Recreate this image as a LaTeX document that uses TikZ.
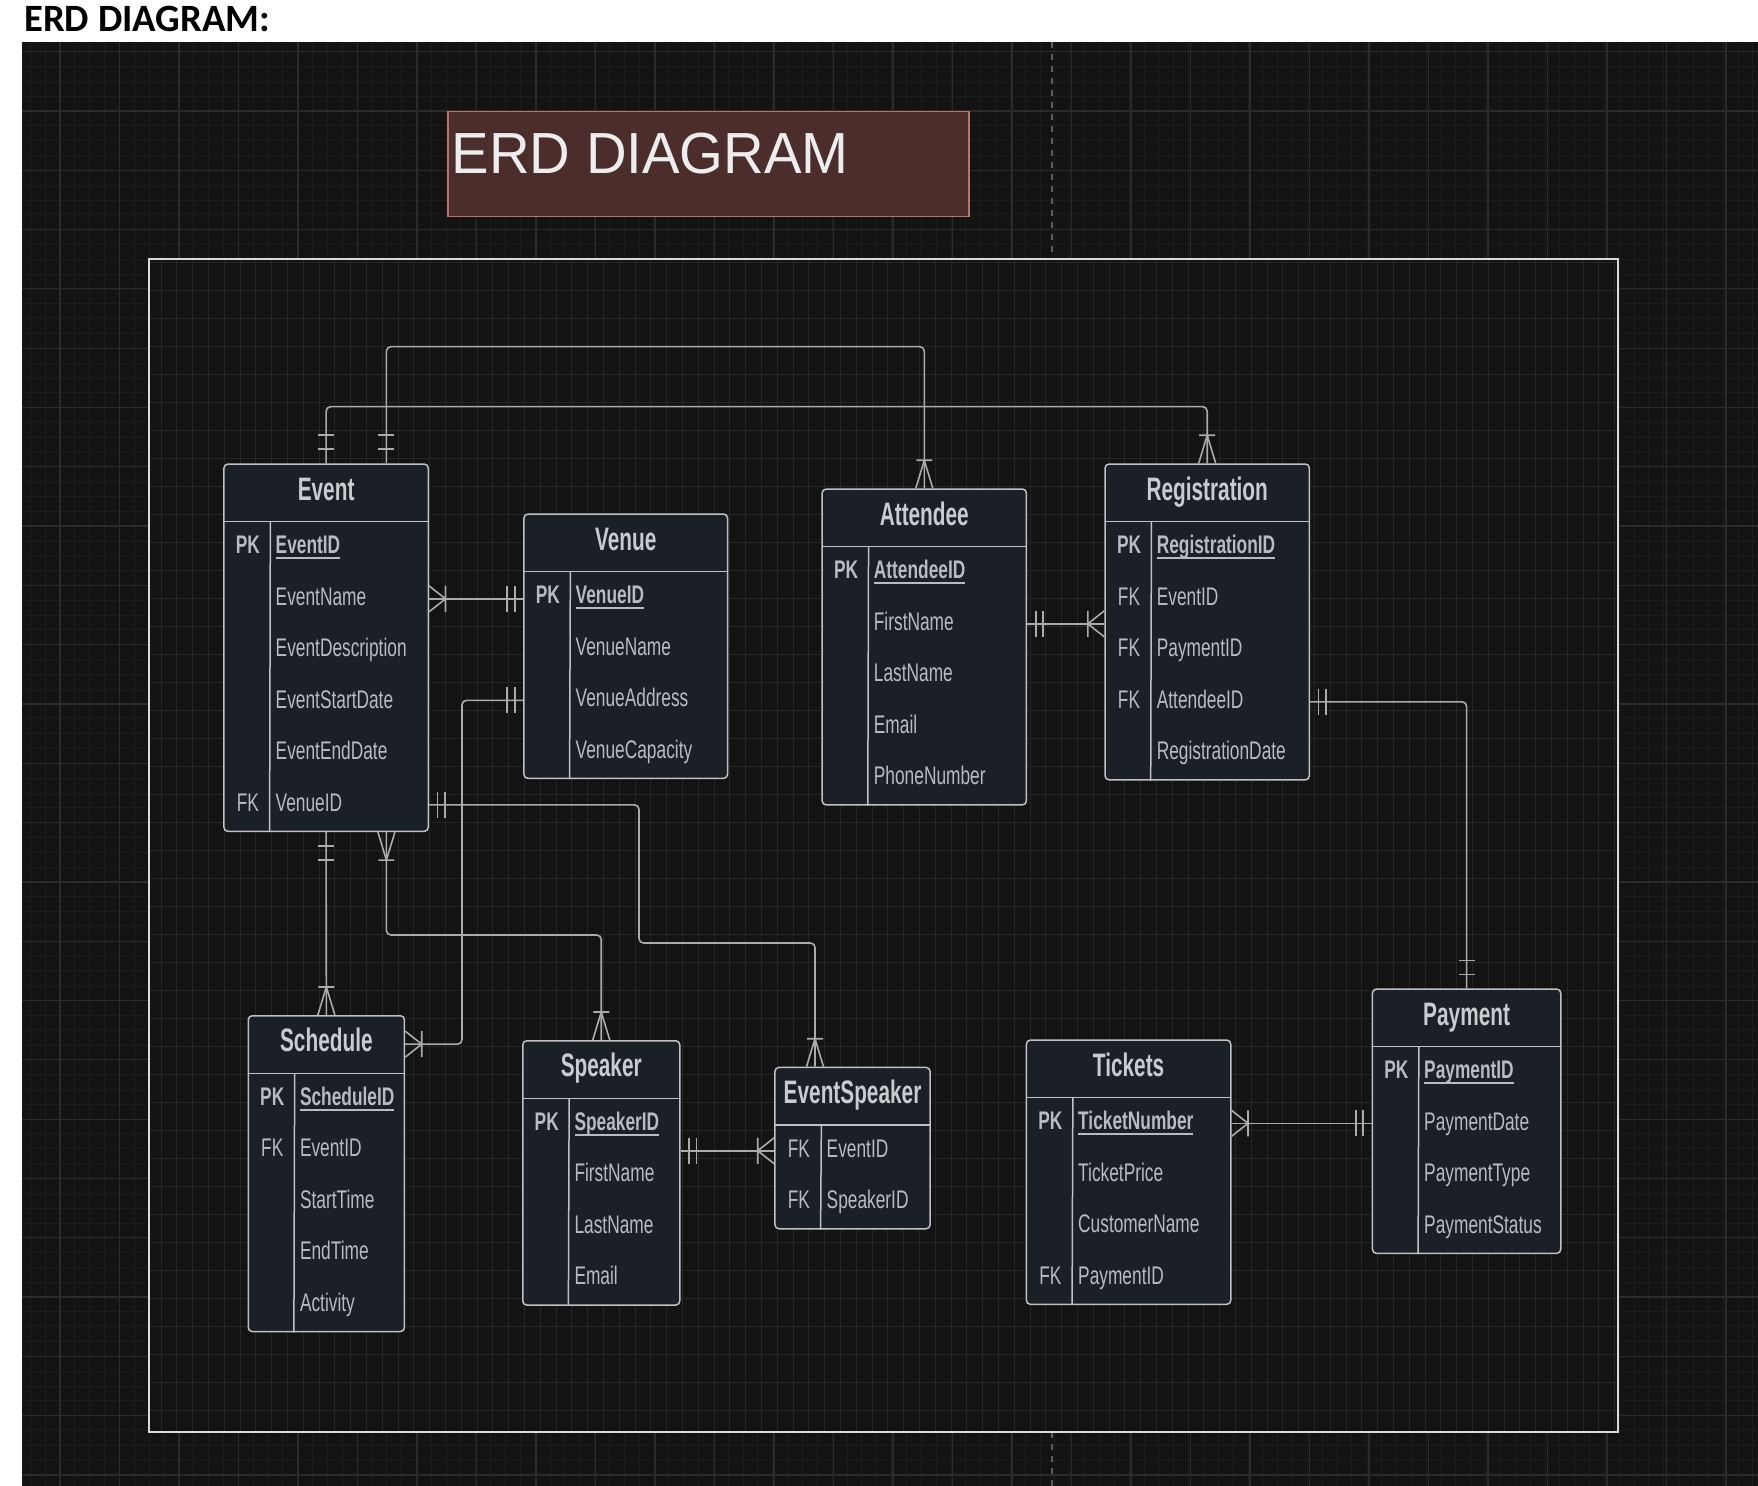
\documentclass[tikz,border=0pt]{standalone}
\usepackage{fontspec}
\usepackage{tikz}
\usetikzlibrary{positioning,calc}
\newfontfamily\erdbody[FakeStretch=0.68]{Liberation Sans}
\newfontfamily\erdhead[FakeStretch=0.64]{Liberation Sans}
\newfontfamily\erdtitle[FakeStretch=0.97]{Liberation Sans}
\newfontfamily\erdcap{Carlito}
\definecolor{pagebg}{HTML}{131313}
\definecolor{gridmajc}{HTML}{2B2B2B}
\definecolor{gridminc}{HTML}{1C1C1C}
\definecolor{gridinc}{HTML}{252525}
\definecolor{framec}{HTML}{DADADA}
\definecolor{dashc}{HTML}{5E5E5E}
\definecolor{titlefill}{HTML}{4B2D2C}
\definecolor{titledraw}{HTML}{B8736D}
\definecolor{titletxt}{HTML}{EDEDED}
\definecolor{erdfill}{HTML}{1B1F26}
\definecolor{erdline}{HTML}{BFC1C4}
\definecolor{erdtxt}{HTML}{B8BBC1}
\definecolor{erdhtxt}{HTML}{C8CBD0}
\definecolor{relc}{HTML}{ABABAB}
\newcommand{\erdu}{0.2mm}
\newcommand{\pk}{\bfseries PK}
\newcommand{\fk}{FK}
\newcommand{\nk}{}
\newcommand{\pkf}[1]{\bfseries\setbox0\hbox{#1}\rlap{\rule[-3.2pt]{\wd0}{1pt}}\box0}
\tikzset{
  entbox/.style={draw=erdline, fill=erdfill, line width=0.3mm, rounded corners=0.8mm, inner sep=0pt},
  enthead/.style={inner sep=0pt, outer sep=0pt, minimum height=11.66mm, text=erdhtxt,
                  font=\erdhead\bfseries\fontsize{18.5}{21}\selectfont, text height=4.66mm, text depth=1.54mm},
  keytxt/.style={inner sep=0pt, text=erdtxt, font=\erdbody\fontsize{14.5}{17}\selectfont,
                 text height=3.66mm, text depth=1.16mm},
  fldtxt/.style={keytxt, inner xsep=1mm},
  entline/.style={draw=erdline, line width=0.3mm},
  relline/.style={draw=relc, line width=0.32mm, rounded corners=0.9mm},
  relmark/.style={draw=relc, line width=0.32mm},
  gridmin/.style={draw=gridminc, line width=0.15mm},
  gridmaj/.style={draw=gridmajc, line width=0.24mm},
  gridin/.style={draw=gridinc, line width=0.15mm},
  titlebox/.style={draw=titledraw, fill=titlefill, line width=0.3mm, inner sep=0pt},
  oneH/.pic={\draw[relmark] (8.5,-13) -- (8.5,13) (16,-13) -- (16,13);},
  manyH/.pic={\draw[relmark] (0,-13) -- (16.5,0) -- (0,13) (16.5,-13) -- (16.5,13);},
  oneV/.pic={\draw[relmark] (-8,14) -- (8,14) (-8,28) -- (8,28);},
  manyV/.pic={\draw[relmark] (-8.5,0) -- (0,28) -- (8.5,0) (-8,28) -- (8,28);},
}
% one table: name, top left, width, rows, title, key/field list
\newcommand{\erdtable}[6]{%
  \node[entbox, minimum width=#3*\erdu, minimum height={(58.3+51.5*#4)*\erdu}, anchor=north west] (#1) at (#2) {};
  \node[enthead, minimum width=#3*\erdu, anchor=north] (#1-h) at (#1.north) {#5};
  \draw[entline] (#1-h.south west) -- (#1-h.south east);
  \draw[entline] ([xshift=46.4*\erdu]#1-h.south west) -- ([xshift=46.4*\erdu]#1.south west);
  \foreach \kc/\fd [count=\i] in {#6} {
    \node[keytxt, anchor=center] (#1-k\i) at ([xshift=24*\erdu, yshift={-(25.75+51.5*(\i-1))*\erdu}]#1-h.south west) {\kc};
    \node[fldtxt, anchor=west] (#1-\i) at ([xshift=46.4*\erdu, yshift={-(25.75+51.5*(\i-1))*\erdu}]#1-h.south west) {\fd};
  }%
}

\begin{document}
\begin{tikzpicture}[x=0.2mm, y=-0.2mm]
  \useasboundingbox (0,0) rectangle (1758,1486);
  \fill[white] (0,0) rectangle (1758,1486);
  \fill[pagebg] (22,42) rectangle (1758,1486);
  % canvas grid
  \begin{scope}
    \clip (22,42) rectangle (1758,1486);
    \foreach \gx in {15.35,30.2,...,1758} \draw[gridmin] (\gx,42) -- (\gx,1486);
    \foreach \gy in {51.7,66.525,...,1486} \draw[gridmin] (22,\gy) -- (1758,\gy);
    \foreach \gx in {60,119.5,...,1758} \draw[gridmaj] (\gx,42) -- (\gx,1486);
    \foreach \gy in {51.7,111,...,1486} \draw[gridmaj] (22,\gy) -- (1758,\gy);
  \end{scope}
  \draw[dashc, line width=0.3mm, dash pattern=on 1.2mm off 1.2mm] (1052,42) -- (1052,259);
  \draw[dashc, line width=0.3mm, dash pattern=on 1.2mm off 1.2mm] (1052,1432) -- (1052,1486);

  % pasted diagram
  \fill[pagebg] (149,259) rectangle (1618,1432);
  \begin{scope}
    \clip (149,259) rectangle (1618,1432);
    \foreach \gx in {161,176.8,...,1618} \draw[gridin] (\gx,259) -- (\gx,1432);
    \foreach \gy in {262,290,...,1432} \draw[gridin] (149,\gy) -- (1618,\gy);
  \end{scope}
  \draw[framec, line width=0.5mm] (149,259) rectangle (1618,1432);

  \node[anchor=base west, inner sep=0pt, font=\erdcap\bfseries\fontsize{22}{26}\selectfont] (toplabel) at (24,31.7) {ERD DIAGRAM:};
  \node[titlebox, minimum width=521*\erdu, minimum height=105*\erdu, anchor=north west] (titlebox) at (447,111) {};
  \node[anchor=base west, inner sep=0pt, text=titletxt, font=\erdtitle\fontsize{33}{38}\selectfont] (titletext) at (451.5,174) {ERD DIAGRAM};

  % tables
  \erdtable{event}{223.2,463.3}{204.3}{6}{Event}{\pk/\pkf{EventID}, \nk/EventName, \nk/EventDescription, \nk/EventStartDate, \nk/EventEndDate, \fk/VenueID}
  \erdtable{venue}{523.2,513.3}{203.6}{4}{Venue}{\pk/\pkf{VenueID}, \nk/VenueName, \nk/VenueAddress, \nk/VenueCapacity}
  \erdtable{attendee}{821.4,488.3}{204.3}{5}{Attendee}{\pk/\pkf{AttendeeID}, \nk/FirstName, \nk/LastName, \nk/Email, \nk/PhoneNumber}
  \erdtable{registration}{1104.3,463.3}{204.3}{5}{Registration}{\pk/\pkf{RegistrationID}, \fk/EventID, \fk/PaymentID, \fk/AttendeeID, \nk/RegistrationDate}
  \erdtable{schedule}{247.5,1015}{156.2}{5}{Schedule}{\pk/\pkf{ScheduleID}, \fk/EventID, \nk/StartTime, \nk/EndTime, \nk/Activity}
  \erdtable{speaker}{522,1040}{157}{4}{Speaker}{\pk/\pkf{SpeakerID}, \nk/FirstName, \nk/LastName, \nk/Email}
  \erdtable{eventspeaker}{774.2,1066.7}{155.2}{2}{EventSpeaker}{\fk/EventID, \fk/SpeakerID}
  \erdtable{tickets}{1025.7,1039.3}{204.3}{4}{Tickets}{\pk/\pkf{TicketNumber}, \nk/TicketPrice, \nk/CustomerName, \fk/PaymentID}
  \erdtable{payment}{1371.7,988.3}{188.3}{4}{Payment}{\pk/\pkf{PaymentID}, \nk/PaymentDate, \nk/PaymentType, \nk/PaymentStatus}

  % relationships
  \coordinate (busA) at (0,406.7);
  \coordinate (legA) at (386.4,346.7);
  \coordinate (legB) at (462,0);
  \coordinate (legC) at (639,943);
  \coordinate (legD) at (815,0);
  \coordinate (legE) at (386.4,935);
  \draw[relline] (event.north) -- (event.north |- busA) -- (registration.north |- busA) -- (registration.north);
  \draw[relline] (event.north -| legA) -- (legA) -- (attendee.north |- legA) -- (attendee.north);
  \draw[relline] (event.east |- event-2) -- (venue.west |- event-2);
  \draw[relline] (venue.west |- venue-3) -| (legB |- schedule-h) -- (schedule.east |- schedule-h);
  \draw[relline] (event.east |- event-6) -| (legC) -| (eventspeaker.north -| legD);
  \draw[relline] (event.south -| legE) -- (legE) -| (speaker.north);
  \draw[relline] (event.south) -- (schedule.north);
  \draw[relline] (attendee.east |- attendee-2) -- (registration.west |- attendee-2);
  \draw[relline] (registration.east |- registration-4) -| (payment.north);
  \draw[relline] (speaker.east |- eventspeaker-1) -- (eventspeaker.west |- eventspeaker-1);
  \draw[relline] (tickets.east |- tickets-1) -- (payment.west |- tickets-1);

  \pic[yscale=-1] at (event.north) {oneV};
  \pic[yscale=-1] at (registration.north) {manyV};
  \pic[yscale=-1] at (event.north -| legA) {oneV};
  \pic[yscale=-1] at (attendee.north) {manyV};
  \pic at (event.east |- event-2) {manyH};
  \pic[xscale=-1] at (venue.west |- event-2) {oneH};
  \pic[xscale=-1] at (venue.west |- venue-3) {oneH};
  \pic at (schedule.east |- schedule-h) {manyH};
  \pic at (event.east |- event-6) {oneH};
  \pic[yscale=-1] at (eventspeaker.north -| legD) {manyV};
  \pic at (event.south -| legE) {manyV};
  \pic[yscale=-1] at (speaker.north) {manyV};
  \pic at (event.south) {oneV};
  \pic[yscale=-1] at (schedule.north) {manyV};
  \pic at (attendee.east |- attendee-2) {oneH};
  \pic[xscale=-1] at (registration.west |- attendee-2) {manyH};
  \pic at (registration.east |- registration-4) {oneH};
  \pic[yscale=-1] at (payment.north) {oneV};
  \pic at (speaker.east |- eventspeaker-1) {oneH};
  \pic[xscale=-1] at (eventspeaker.west |- eventspeaker-1) {manyH};
  \pic at (tickets.east |- tickets-1) {manyH};
  \pic[xscale=-1] at (payment.west |- tickets-1) {oneH};
\end{tikzpicture}
\end{document}
